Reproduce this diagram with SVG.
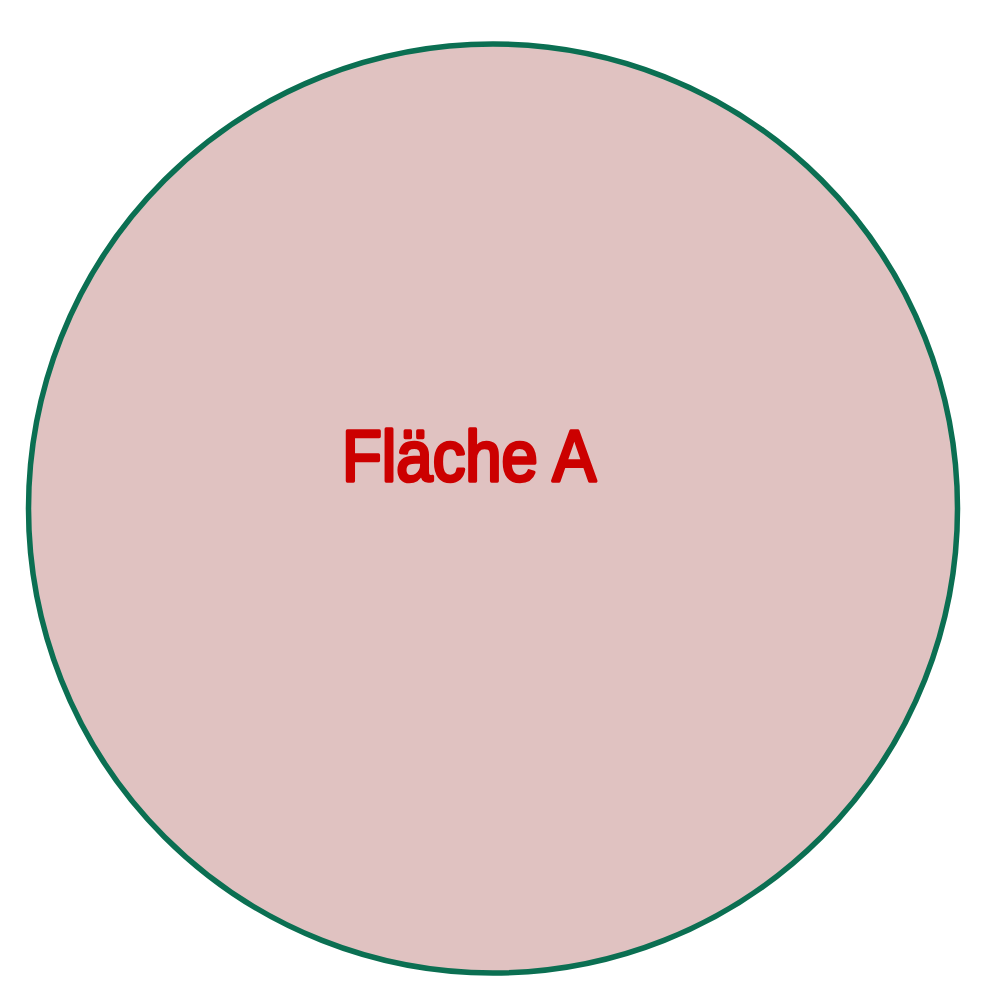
<svg xmlns="http://www.w3.org/2000/svg" width="1000" height="1000" viewBox="0 0 1000 1000">
<style>
.area{fill:#e0c2c1;stroke:#0b6f52;stroke-width:5.5}
.lbl{font-family:"Liberation Sans",Arial,sans-serif;font-size:72px;font-weight:normal;fill:#cc0000;stroke:#cc0000;stroke-width:3.5;stroke-linejoin:round;stroke-linecap:round}
</style>
<rect width="1000" height="1000" fill="#ffffff"/>
<g id="flaeche-a">
<circle class="area" cx="493" cy="508.5" r="464.5"/>
<text class="lbl" x="342" y="481" textLength="254" lengthAdjust="spacingAndGlyphs">Fläche A</text>
</g>
</svg>
